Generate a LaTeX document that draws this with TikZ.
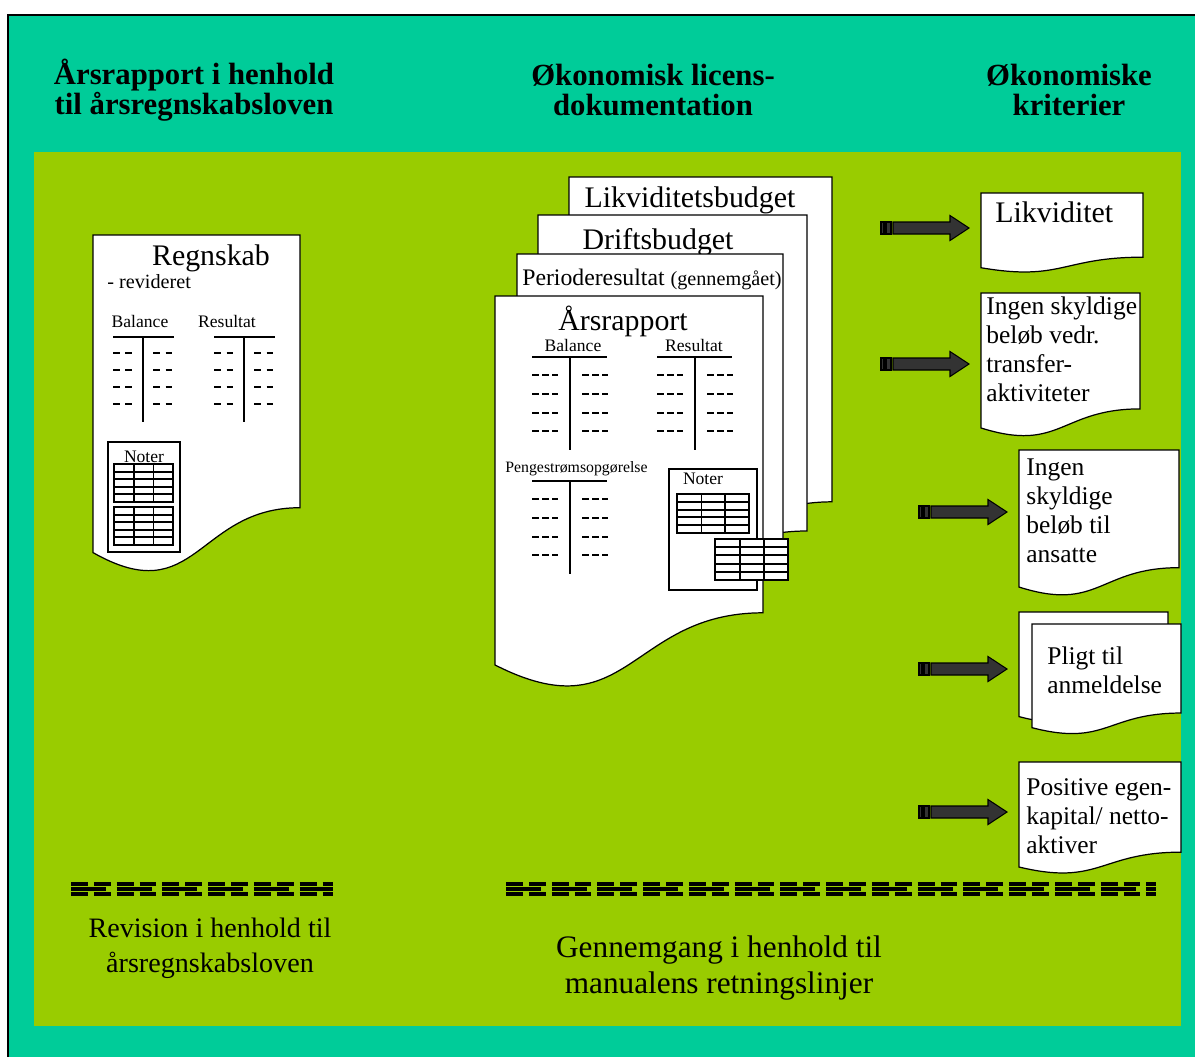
\documentclass[tikz,border=0pt]{standalone}
\usepackage{fontspec}
\setmainfont{Liberation Serif}
\usetikzlibrary{calc}
\definecolor{bgteal}{HTML}{00CC99}
\definecolor{bggreen}{HTML}{99CC00}
\definecolor{arrowfill}{HTML}{333333}
\tikzset{
  frame/.style={fill=bgteal, draw=black, line width=0.9pt},
  paper/.style={fill=white, draw=black, line width=0.7pt},
  head/.style={font=\bfseries\fontsize{17.5}{17}\selectfont, align=center},
  foot/.style={font=\fontsize{16}{20}\selectfont, align=center},
  big/.style={font=\fontsize{17}{19}\selectfont, inner sep=0pt},
  small/.style={font=\fontsize{10}{12}\selectfont, inner sep=0pt},
  crit/.style={font=\fontsize{14.5}{16.5}\selectfont, align=left, inner sep=0pt},
  tline/.style={line width=0.8pt},
  dashtwo/.style={line width=0.7pt, dash pattern=on 0.13cm off 0.12cm},
  dashthree/.style={line width=0.7pt, dash pattern=on 0.13cm off 0.07cm},
  tbl/.style={line width=1.1pt},
  rowouter/.style={line width=1.9pt, dash pattern=on 0.34cm off 0.12cm on 0.335cm off 0.12cm},
  rowmid/.style={line width=1.9pt, dash pattern=on 0.7cm off 0.215cm},
  arrowbody/.style={fill=arrowfill, draw=black, line width=0.6pt},
  pics/striparrow/.style={code={
    \filldraw[arrowbody] (0,-6) rectangle (3,6);
    \filldraw[arrowbody] (5,-6) rectangle (10,6);
    \filldraw[arrowbody] (12,-6) -- (69,-6) -- (69,-12.5) -- (88,0)
      -- (69,12.5) -- (69,6) -- (12,6) -- cycle;
  }},
}
% sheet with wavy bottom: left, top, right, height
\newcommand{\docpaper}[4]{%
  \filldraw[paper] (#1,#2) -- (#3,#2) -- (#3,{#2+0.802*#4})
    .. controls ({(#1+#3)/2},{#2+0.802*#4}) and ({(#1+#3)/2},{#2+1.107*#4})
    .. (#1,{#2+0.934*#4}) -- cycle;}
% small table: x, y, width, height
\newcommand{\notegrid}[4]{%
  \filldraw[tbl, fill=white] (#1,#2) rectangle ({#1+#3},{#2+#4});
  \foreach \col in {0.34,0.67}
    \draw[tbl] ({#1+\col*#3},#2) -- ({#1+\col*#3},{#2+#4});
  \foreach \row in {1,...,4}
    \draw[tbl] (#1,{#2+\row*#4/5}) -- ({#1+#3},{#2+\row*#4/5});}

\begin{document}
\begin{tikzpicture}[x=0.02cm,y=-0.02cm]
  \useasboundingbox (0,0) rectangle (1195,1056);
  \filldraw[frame] (8,15) rectangle (1210,1070);
  \fill[bggreen] (34,152) rectangle (1181,1026);

  % column headings
  \node[head] (hleft) at (194,90) {Årsrapport i henhold\\til årsregnskabsloven};
  \node[head] (hmid) at (653,90) {Økonomisk licens-\\dokumentation};
  \node[head] (hright) at (1069,90) {Økonomiske\\kriterier};

  % audited accounts
  \docpaper{93}{235}{300}{340}
  \node[big, anchor=base] (regnskab) at (211,265) {Regnskab};
  \node[font=\fontsize{11.5}{13}\selectfont, inner sep=0pt, anchor=base west] (revid) at (107,288) {- revideret};
  \node[small, anchor=base] (rbal) at (140,327) {Balance};
  \node[small, anchor=base] (rres) at (227,327) {Resultat};
  \foreach \x in {113,214}{
    \draw[tline] (\x,337) -- ++(61,0);
    \draw[tline] (\x+30,337) -- ++(0,85);
    \foreach \y in {353,370,387,404}{
      \draw[dashtwo] (\x,\y) -- ++(19,0);
      \draw[dashtwo] (\x+40,\y) -- ++(19,0);
    }
  }
  \draw[tline, fill=white] (108,442) rectangle (180,552);
  \node[small, anchor=base] (rnoter) at (144,462) {Noter};
  \notegrid{114}{464}{59}{38}
  \notegrid{114}{507}{59}{38}

  % stack of licence documents
  \docpaper{569}{177}{832}{405}
  \node[big, anchor=base] (likvb) at (690,207) {Likviditetsbudget};
  \docpaper{538}{215}{807}{394}
  \node[big, anchor=base] (drift) at (658,249) {Driftsbudget};
  \docpaper{517}{254}{783}{396}
  \node[font=\fontsize{13.5}{15}\selectfont, inner sep=0pt, anchor=base west] (periode) at (522,285)
    {Perioderesultat {\fontsize{11.5}{13}\selectfont(gennemgået)}};
  \docpaper{495}{296}{763}{395}
  \node[big, anchor=base] (aars) at (623,330) {Årsrapport};
  \node[small, anchor=base] (abal) at (573,351) {Balance};
  \node[small, anchor=base] (ares) at (694,351) {Resultat};
  \node[font=\fontsize{9}{11}\selectfont, inner sep=0pt, anchor=base west] (penge) at (505,472) {Pengestrømsopgørelse};
  \foreach \x/\t in {532/357,657/357,532/481}{
    \draw[tline] (\x,\t) -- ++(75,0);
    \draw[tline] (\x+38,\t) -- ++(0,93);
    \foreach \d in {18,37,56,74}{
      \draw[dashthree] (\x,\t+\d) -- ++(26,0);
      \draw[dashthree] (\x+50,\t+\d) -- ++(26,0);
    }
  }
  \draw[tline, fill=white] (669,469) rectangle (757,590);
  \node[small, anchor=base] (anoter) at (703,484) {Noter};
  \notegrid{677}{494}{72}{39}
  \notegrid{715}{539}{73}{41}

  % criteria (base = last line)
  \docpaper{981}{193}{1143}{80}
  \node[font=\fontsize{17}{19}\selectfont, inner sep=0pt, anchor=base west] (likv) at (995,222) {Likviditet};
  \docpaper{981}{293}{1140}{144.5}
  \node[crit, anchor=base west] (transfer) at (986,401) {Ingen skyldige\\beløb vedr.\\transfer-\\aktiviteter};
  \docpaper{1019}{450}{1179}{146.7}
  \node[crit, anchor=base west] (ansatte) at (1026,562) {Ingen\\skyldige\\beløb til\\ansatte};
  \docpaper{1019}{612}{1168}{112}
  \docpaper{1032}{624}{1181}{111}
  \node[crit, anchor=base west] (pligt) at (1047,693) {Pligt til\\anmeldelse};
  \docpaper{1019}{762}{1181}{112.4}
  \node[crit, anchor=base west] (egenkap) at (1026,853) {Positive egen-\\kapital/ netto-\\aktiver};

  \foreach \x/\y in {881/228,881/364,919/512,919/669,919/812}
    \pic at (\x,\y) {striparrow};

  % review lines
  \foreach \xa/\xb in {71/333,506/1156}{
    \draw[rowouter] (\xa,884) -- (\xb,884);
    \draw[rowmid] (\xa,889) -- (\xb,889);
    \draw[rowouter] (\xa,894) -- (\xb,894);
  }
  \node[foot] (revision) at (210,948) {Revision i henhold til\\årsregnskabsloven};
  \node[foot, font=\fontsize{17.8}{20}\selectfont] (gennemgang) at (719,968) {Gennemgang i henhold til\\manualens retningslinjer};
\end{tikzpicture}
\end{document}
